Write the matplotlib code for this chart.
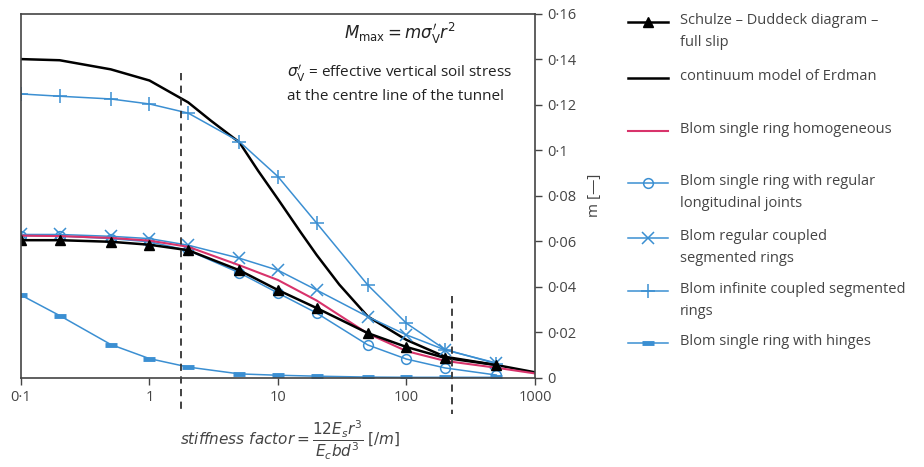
import matplotlib.pyplot as plt
from matplotlib.lines import Line2D

plt.rcParams['font.family'] = ['Open Sans', 'DejaVu Sans']
plt.rcParams['mathtext.fontset'] = 'dejavusans'

BLUE = "#3b8fd2"
RED = "#d8336b"
GREY = "#444444"

# stiffness factor values where the Blom / Schulze-Duddeck points were read
x_pts = [0.1, 0.2, 0.5, 1, 2, 5, 10, 20, 50, 100, 200, 500]
schulze = [0.0605, 0.0605, 0.0598, 0.0585, 0.0561, 0.0473, 0.0386, 0.0307,
           0.0197, 0.0136, 0.0088, 0.0057]
joints = [0.0625, 0.0623, 0.0612, 0.0598, 0.056, 0.0462, 0.0373, 0.0285,
          0.0145, 0.0083, 0.0044, 0.0013]
coupled = [0.063, 0.063, 0.0622, 0.0612, 0.0583, 0.0526, 0.0473, 0.0386,
           0.0269, 0.0189, 0.0123, 0.0066]
infinite = [0.1247, 0.1237, 0.1225, 0.1203, 0.1163, 0.1038, 0.0884, 0.068,
            0.0408, 0.024, 0.0125, 0.0063]
hinges = [0.0364, 0.0274, 0.0147, 0.0085, 0.0048, 0.0018, 0.0012, 0.0008,
          0.0004, 0.0003, 0.0003, 0.0003]

x_homog = [0.1, 0.2, 0.5, 1, 2, 5, 10, 20, 50, 100, 200, 500, 1000]
homog = [0.0625, 0.0623, 0.0615, 0.0603, 0.0576, 0.0495, 0.043, 0.034,
         0.0195, 0.0118, 0.0075, 0.0045, 0.002]

x_erdman = [0.1, 0.2, 0.5, 1, 2, 3, 5, 7, 10, 15, 20, 30, 50, 100, 200, 500, 1000]
erdman = [0.140, 0.1395, 0.1355, 0.1306, 0.121, 0.113, 0.1035, 0.091, 0.0785,
          0.064, 0.054, 0.041, 0.027, 0.0167, 0.0093, 0.0057, 0.0025]

# dashed reference lines (x, y top)
ref_lines = [(1.76, 0.134), (226, 0.036)]

x_ticks = [0.1, 1, 10, 100, 1000]
x_labels = ["0·1", "1", "10", "100", "1000"]
y_ticks = [0, 0.02, 0.04, 0.06, 0.08, 0.1, 0.12, 0.14, 0.16]
y_labels = ["0", "0·02", "0·04", "0·06", "0·08", "0·1", "0·12", "0·14", "0·16"]

legend_labels = [
    "Schulze – Duddeck diagram –\nfull slip",
    "continuum model of Erdman",
    "Blom single ring homogeneous",
    "Blom single ring with regular\nlongitudinal joints",
    "Blom regular coupled\nsegmented rings",
    "Blom infinite coupled segmented\nrings",
    "Blom single ring with hinges",
]

fig = plt.figure(figsize=(9.24, 4.67), dpi=100)
ax = fig.add_axes([0.0227, 0.1906, 0.5563, 0.7804])

ax.plot(x_erdman, erdman, color="black", lw=1.8)
ax.plot(x_pts, infinite, color=BLUE, lw=1.1, marker="+", ms=10, mew=1.1)
ax.plot(x_pts, hinges, color=BLUE, lw=1.1, marker="_", ms=9, mew=3.5)
ax.plot(x_pts, joints, color=BLUE, lw=1.1, marker="o", ms=7, mfc="none", mew=1.1)
ax.plot(x_pts, coupled, color=BLUE, lw=1.1, marker="x", ms=8, mew=1.1)
ax.plot(x_homog, homog, color=RED, lw=1.5)
ax.plot(x_pts, schulze, color="black", lw=1.8, marker="^", ms=7)

for xr, ytop in ref_lines:
    ax.plot([xr, xr], [ytop, -0.016], color="#333333", lw=1.3,
            ls=(0, (4, 3)), clip_on=False)

ax.set_xscale("log")
ax.set_xlim(0.1, 1000)
ax.set_ylim(0, 0.16)
ax.set_xticks(x_ticks)
ax.set_xticklabels(x_labels)
ax.minorticks_off()
ax.yaxis.tick_right()
ax.set_yticks(y_ticks)
ax.set_yticklabels(y_labels)
ax.tick_params(direction="out", length=5, width=1, colors=GREY,
               labelsize=10.5, labelcolor=GREY)
for s in ax.spines.values():
    s.set_color(GREY)
    s.set_linewidth(1.2)

ax.yaxis.set_label_position("right")
ax.set_ylabel("m [—]", fontsize=11, color=GREY, labelpad=8)

fig.text(290 / 924, 1 - 440 / 467,
         r"$\mathit{stiffness\ factor} = \dfrac{12E_s r^3}{E_c b d^3}$ $[\mathit{/m}]$",
         ha="center", va="center", fontsize=11, color=GREY)

fig.text(400 / 924, 1 - 33 / 467, r"$M_{\mathrm{max}} = m\sigma_{\mathrm{V}}'r^2$",
         ha="center", va="center", fontsize=12, color="#222222")
fig.text(287 / 924, 1 - 73 / 467,
         r"$\sigma_{\mathrm{V}}'$ = effective vertical soil stress",
         ha="left", va="center", fontsize=11, color="#222222")
fig.text(287 / 924, 1 - 97 / 467, "at the centre line of the tunnel",
         ha="left", va="center", fontsize=11, color="#222222")

# legend drawn by hand in figure pixels
handles = [
    dict(color="black", lw=1.8, marker="^", ms=7),
    dict(color="black", lw=1.8),
    dict(color=RED, lw=1.5),
    dict(color=BLUE, lw=1.1, marker="o", ms=7, mfc="none", mew=1.1),
    dict(color=BLUE, lw=1.1, marker="x", ms=8, mew=1.1),
    dict(color=BLUE, lw=1.1, marker="+", ms=10, mew=1.1),
    dict(color=BLUE, lw=1.1, marker="_", ms=9, mew=3.5),
]
leg_y = [22, 78, 131, 183, 238, 291, 343]
for lab, h, yy in zip(legend_labels, handles, leg_y):
    yf = 1 - yy / 467
    fig.add_artist(Line2D([628 / 924, 668 / 924], [yf, yf],
                          transform=fig.transFigure, color=h["color"], lw=h["lw"]))
    if "marker" in h:
        mk = {k: v for k, v in h.items() if k != "lw"}
        fig.add_artist(Line2D([648 / 924], [yf], transform=fig.transFigure,
                              ls="none", **mk))
    fig.text(680 / 924, yf + 9 / 467, lab, ha="left", va="top", fontsize=10.5,
             color=GREY, linespacing=1.65)

fig.savefig("out.png", dpi=100)
